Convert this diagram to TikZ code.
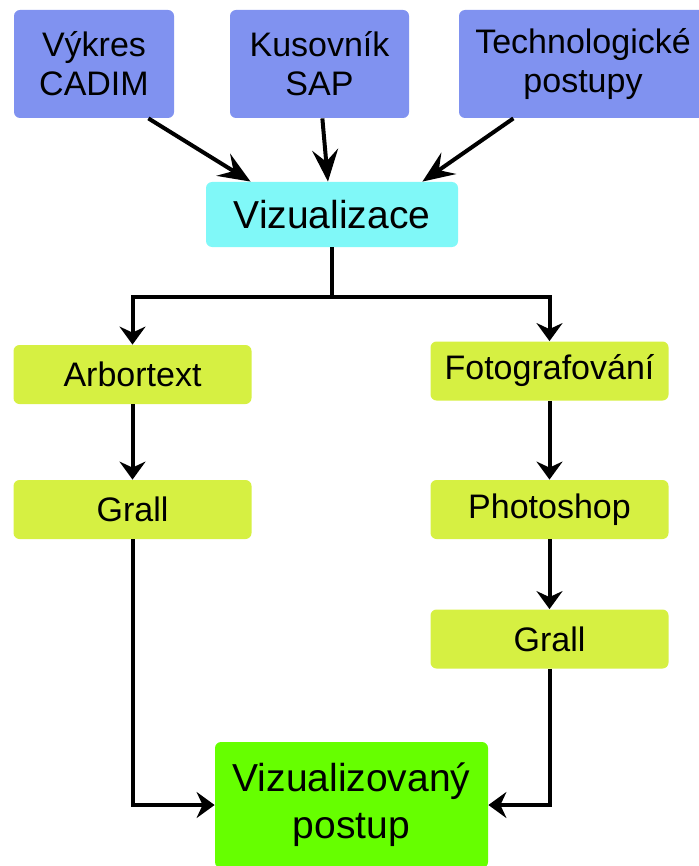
\documentclass[tikz,border=0pt]{standalone}
\usepackage{fontspec}
\setmainfont{Liberation Sans}
\usetikzlibrary{arrows.meta}
\definecolor{modra}{RGB}{128,146,240}
\definecolor{azur}{RGB}{128,248,248}
\definecolor{zluta}{RGB}{214,240,66}
\definecolor{zelena}{RGB}{102,255,0}
\begin{document}
\begin{tikzpicture}[x=.5pt, y=-.5pt,
		box/.style={rounded corners=3pt, inner sep=0pt, align=center, font=\fontsize{17}{19.5}\selectfont},
		vstup/.style={box, fill=modra, minimum height=54pt},
		krok/.style={box, fill=zluta, minimum width=119pt, minimum height=29.5pt},
		sipka/.style={line width=2pt, -{Stealth[length=9pt,width=13pt,inset=3pt]}},
		velka/.style={line width=2pt, -{Stealth[length=16pt,width=13pt,inset=6pt]}}]
		\useasboundingbox (0,0) rectangle (698,866);
		% vstupy
		\node[vstup, minimum width=80pt] (vykres) at (94,64) {Výkres\\CADIM};
		\node[vstup, minimum width=89.5pt] (kusovnik) at (319.5,64) {Kusovník\\SAP};
		\node[vstup, minimum width=124pt] (tech) at (583,64) {Technologické\\postupy};
		\node[box, fill=azur, minimum width=126pt, minimum height=32.5pt, font=\fontsize{19.5}{22}\selectfont] (viz) at (332,214.5) {Vizualizace};
		% dve vetve
		\node[krok] (arbor) at (132.5,374.5) {Arbortext};
		\node[krok] (grallL) at (132.5,509.5) {Grall};
		\node[krok] (foto) at (549.5,371) {Fotografování};
		\node[krok] (photo) at (549.5,509.5) {Photoshop};
		\node[krok] (grallR) at (549.5,639) {Grall};
		\node[box, fill=zelena, minimum width=136.5pt, minimum height=63pt, font=\fontsize{19.5}{23.5}\selectfont] (vysl) at (351.5,805) {Vizualizovaný\\postup};
		\coordinate (rozdel) at (332,297);
		
		\draw[velka] (vykres.-45)--(viz.158);
		\draw[velka] (kusovnik.-87)--(viz.97);
		\draw[velka] (tech.218)--(viz.20);
		\draw[line width=2pt] (viz.south)--(rozdel);
		\draw[sipka] (rozdel)-|(arbor.north);
		\draw[sipka] (rozdel)-|(foto.north);
		\draw[sipka] (arbor)--(grallL);
		\draw[sipka] (foto)--(photo);
		\draw[sipka] (photo)--(grallR);
		\draw[sipka] (grallL.south)|-(vysl.west);
		\draw[sipka] (grallR.south)|-(vysl.east);
		
	\end{tikzpicture}
\end{document}
